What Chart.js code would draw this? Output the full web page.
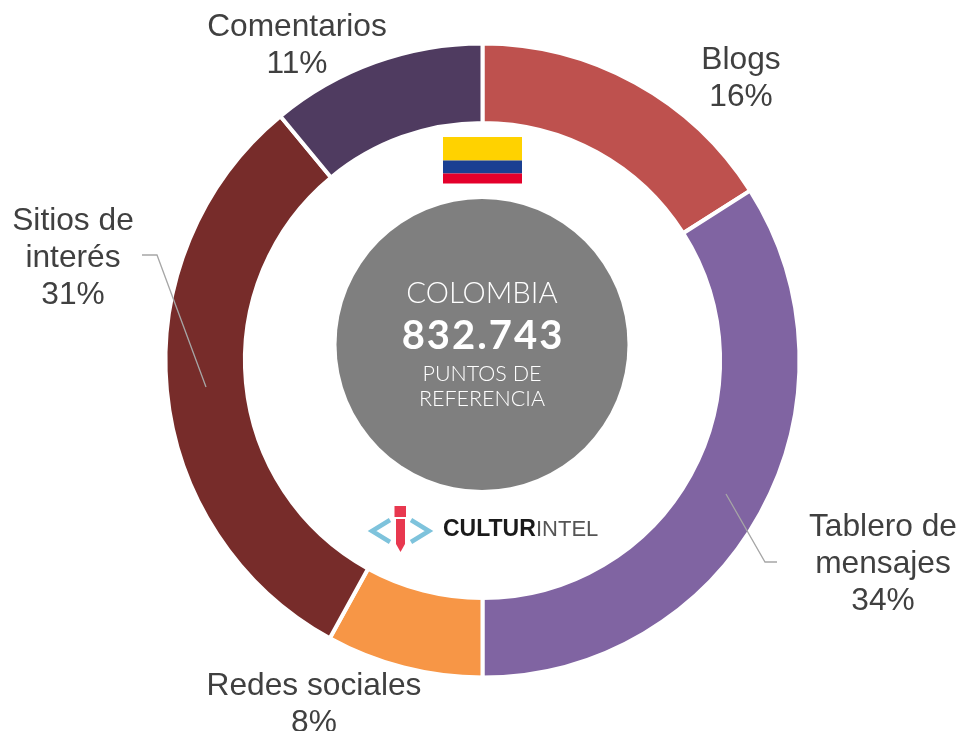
<!DOCTYPE html>
<html><head><meta charset="utf-8">
<script src="https://cdn.jsdelivr.net/npm/chart.js@4"></script>
<style>html,body{margin:0;padding:0;background:#fff;overflow:hidden}#w{position:absolute;left:0;top:0;width:963px;height:731px}</style>
</head><body><div id="w"><canvas id="c"></canvas></div>
<script>
const categories=["Blogs","Tablero de mensajes","Redes sociales","Sitios de interés","Comentarios"];
const values=[16,34,8,31,11];
const colours=["#BE514E","#8064A2","#F79646","#772C2A","#4F3B60"];
const centreTitle="COLOMBIA";
const centreNumber="832.743";
const centreSub=["PUNTOS DE","REFERENCIA"];
const logoWord=["CULTUR","INTEL"];
const font='"Liberation Sans",Arial,sans-serif';
const cx=482.5,cy=360.5,R=317;
function sliceLabel(i,x,y,lines){
 const g=this;
 lines.forEach((t,j)=>g.fillText(t,x,y+j*37));
}
const overlay={id:"overlay",afterDraw(ch){
 const g=ch.ctx;g.save();
 g.fillStyle="#7F7F7F";g.beginPath();g.arc(482,344.5,145.5,0,Math.PI*2);g.fill();
 g.fillStyle="#FFD200";g.fillRect(443,137,79,23.5);
 g.fillStyle="#1A3F92";g.fillRect(443,160.5,79,13);
 g.fillStyle="#E4002B";g.fillRect(443,173.5,79,10);
 g.textAlign="center";g.textBaseline="middle";g.fillStyle="#fff";
 g.letterSpacing="0px";
 g.font='300 29.3px Lato,'+font;g.fillText(centreTitle,482,294);
 g.letterSpacing="2px";
 g.font='bold 40px Lato,'+font;g.fillText(centreNumber,483,336);
 g.letterSpacing="0px";
 g.font='300 21.5px Lato,'+font;g.fillText(centreSub[0],482,374);g.fillText(centreSub[1],482,399);
 g.fillStyle="#404040";g.font='31.7px '+font;
 const byCat=[[categories[0],"16%"],["Tablero de","mensajes","34%"],[categories[2],"8%"],["Sitios de","interés","31%"],[categories[4],"11%"]];
 sliceLabel.call(g,0,741,60,byCat[0]);
 sliceLabel.call(g,1,883,527,byCat[1]);
 sliceLabel.call(g,2,314,686,byCat[2]);
 sliceLabel.call(g,3,73,221,byCat[3]);
 sliceLabel.call(g,4,297,27,byCat[4]);
 g.strokeStyle="#A6A6A6";g.lineWidth=1.3;
 g.beginPath();g.moveTo(142,255);g.lineTo(157,255);g.lineTo(206,387);g.stroke();
 g.beginPath();g.moveTo(726,494);g.lineTo(765,562);g.lineTo(777,562);g.stroke();
 g.filter="blur(0.6px)";
 g.strokeStyle="#7EC3DC";g.lineWidth=4.5;
 g.beginPath();g.moveTo(390,520);g.lineTo(372,531);g.lineTo(390,542);g.stroke();
 g.beginPath();g.moveTo(411,520);g.lineTo(429,531);g.lineTo(411,542);g.stroke();
 g.fillStyle="#E8384F";g.fillRect(394.5,506,11.5,11);
 g.fillRect(396,519,9,25);
 g.beginPath();g.moveTo(396,544);g.lineTo(405,544);g.lineTo(400.5,552);g.fill();
 g.textAlign="left";g.fillStyle="#1a1a1a";g.font='bold 23px '+font;g.fillText(logoWord[0],443,530);
 g.fillStyle="#555";g.font='22px '+font;g.fillText(logoWord[1],536,530);
 g.restore();
}};
new Chart(document.getElementById("c"),{type:"doughnut",
 data:{labels:categories,datasets:[{data:values,backgroundColor:colours,borderColor:"#fff",borderWidth:4,borderAlign:"center"}]},
 options:{responsive:true,maintainAspectRatio:false,animation:false,cutout:"74.95%",
  radius:R,
  layout:{padding:{left:0,right:0,top:0,bottom:0}},
  plugins:{legend:{display:false},tooltip:{enabled:false}}},
 plugins:[overlay,{id:"shift",beforeDatasetsDraw(ch){ch.ctx.save();ch.ctx.translate(cx-ch.width/2,cy-ch.height/2);},afterDatasetsDraw(ch){ch.ctx.restore();}}]
});
</script></body></html>
